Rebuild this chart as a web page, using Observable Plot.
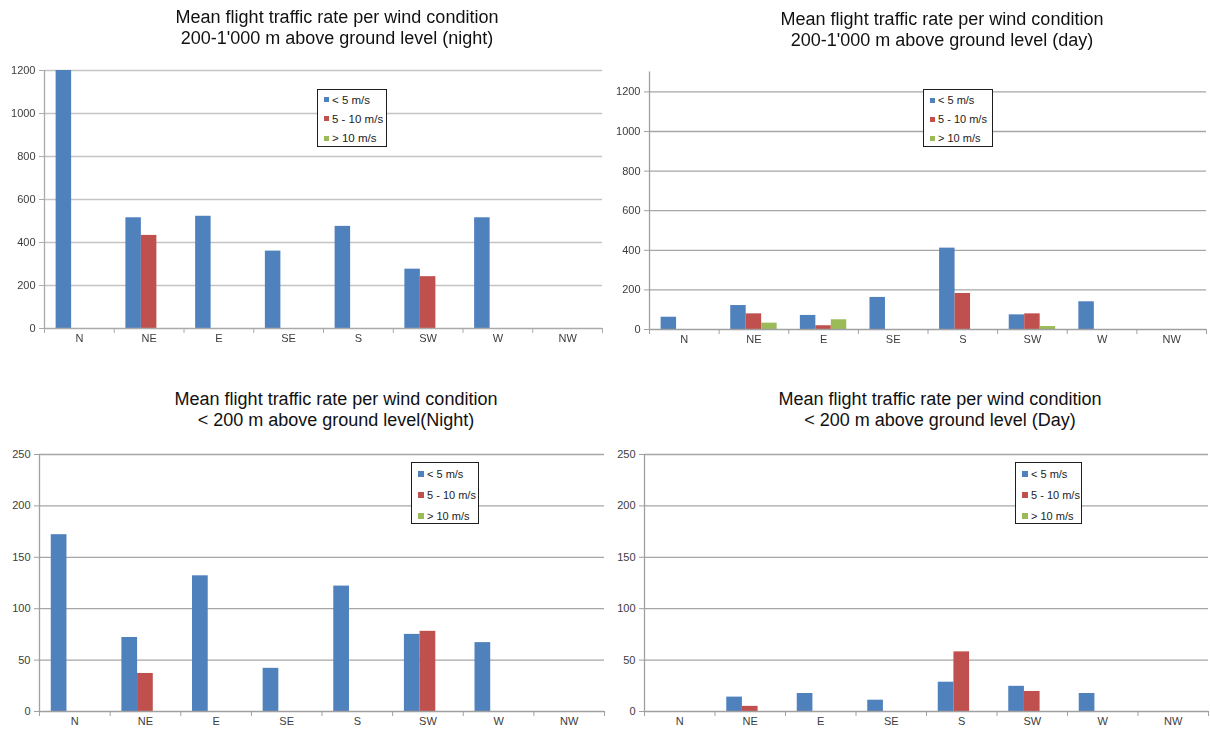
<!DOCTYPE html>
<html>
<head>
<meta charset="utf-8">
<script src="https://cdn.jsdelivr.net/npm/d3@7"></script>
<script src="https://cdn.jsdelivr.net/npm/@observablehq/plot@0.6"></script>
<style>
  body { margin: 0; background: #fff; font-family: "Liberation Sans", Arial, sans-serif; }
  #page { position: relative; width: 1210px; height: 734px; overflow: hidden; background: #fff; }
  .panel { position: absolute; width: 610px; height: 360px; }
  .panel.soft { filter: blur(0.45px); }
  .title { position: absolute; width: 420px; text-align: center; font-size: 18px; line-height: 21px; color: #111; white-space: nowrap; }
  .chart { position: absolute; left: 0; top: 55px; }
  .chart svg text { fill: #3c3c3c; }
  .legend { position: absolute; box-sizing: border-box; border: 1px solid #1e1e1e; background: #fff; font-size: 11px; color: #222; padding-left: 6px; }
  .legend .row { display: flex; align-items: center; white-space: nowrap; }
  .legend .sw { flex: none; margin-right: 3px; }
</style>
</head>
<body>
<div id="page"></div>
<script>
// Wind directions and wind-speed classes
const directions = ["N", "NE", "E", "SE", "S", "SW", "W", "NW"];
const speedClasses = ["< 5 m/s", "5 - 10 m/s", "> 10 m/s"];
const speedColors = ["#4f81bd", "#c0504d", "#9bbb59"];

// Mean flight traffic rate, 200-1'000 m above ground level, night
const highNightSlow = [1200, 515, 522, 360, 475, 276, 515, 0];
const highNightMid  = [0, 433, 0, 0, 0, 241, 0, 0];
const highNightFast = [0, 0, 0, 0, 0, 0, 0, 0];

// Mean flight traffic rate, 200-1'000 m above ground level, day
const highDaySlow = [62, 121, 71, 162, 411, 74, 140, 0];
const highDayMid  = [0, 79, 19, 0, 182, 79, 0, 0];
const highDayFast = [0, 32, 49, 0, 0, 15, 0, 0];

// Mean flight traffic rate, < 200 m above ground level, night
const lowNightSlow = [172, 72, 132, 42, 122, 75, 67, 0];
const lowNightMid  = [0, 37, 0, 0, 0, 78, 0, 0];
const lowNightFast = [0, 0, 0, 0, 0, 0, 0, 0];

// Mean flight traffic rate, < 200 m above ground level, day
const lowDaySlow = [0, 14, 17.5, 11, 28.5, 24.5, 17.5, 0];
const lowDayMid  = [0, 5, 0, 0, 58, 19.5, 0, 0];
const lowDayFast = [0, 0, 0, 0, 0, 0, 0, 0];

// Axis ticks
const ticksHigh = [0, 200, 400, 600, 800, 1000, 1200];
const ticksLow = [0, 50, 100, 150, 200, 250];

// Clustered column layout: gap between clusters = 150% of one column
const gapWidth = 1.5;
const colWidth = 1 / (speedClasses.length + gapWidth);

function tableOf(series) {
  const rows = [];
  series.forEach((values, k) => {
    values.forEach((v, i) => {
      if (v > 0) rows.push({dir: directions[i], index: i, k, speed: speedClasses[k], value: v});
    });
  });
  return rows;
}

const panels = [
  {
    left: 0, top: 0, soft: true,
    title: ["Mean flight traffic rate per wind condition", "200-1'000 m above ground level (night)"],
    titleLeft: 127, titleTop: 7,
    series: [highNightSlow, highNightMid, highNightFast],
    yDomain: [0, 1200], yTicks: ticksHigh,
    width: 605, height: 300, margin: {left: 44, right: 3, top: 15, bottom: 27},
    grid: "#c4c4c4", axis: "#aaaaaa",
    legend: {left: 317, top: 89, width: 70, height: 58, pad: 0, row: 19.3, sw: 5, font: 11.5}
  },
  {
    left: 600, top: 0,
    title: ["Mean flight traffic rate per wind condition", "200-1'000 m above ground level (day)"],
    titleLeft: 132, titleTop: 9,
    series: [highDaySlow, highDayMid, highDayFast],
    yDomain: [0, 1300], yTicks: ticksHigh,
    width: 610, height: 300, margin: {left: 49, right: 4, top: 16.6, bottom: 26},
    grid: "#a6a6a6", axis: "#a0a0a0",
    legend: {left: 323, top: 89, width: 70, height: 58, pad: 0.5, row: 19, sw: 5, font: 11}
  },
  {
    left: 0, top: 380,
    title: ["Mean flight traffic rate per wind condition", "< 200 m above ground level(Night)"],
    titleLeft: 126, titleTop: 9,
    series: [lowNightSlow, lowNightMid, lowNightFast],
    yDomain: [0, 250], yTicks: ticksLow,
    width: 610, height: 299, margin: {left: 39, right: 6, top: 19, bottom: 23},
    grid: "#a6a6a6", axis: "#a0a0a0",
    legend: {left: 411, top: 82, width: 68, height: 62, pad: 0, row: 21, sw: 6, font: 11}
  },
  {
    left: 600, top: 380,
    title: ["Mean flight traffic rate per wind condition", "< 200 m above ground level (Day)"],
    titleLeft: 130, titleTop: 9,
    series: [lowDaySlow, lowDayMid, lowDayFast],
    yDomain: [0, 250], yTicks: ticksLow,
    width: 610, height: 299, margin: {left: 44, right: 2, top: 19, bottom: 23},
    grid: "#a6a6a6", axis: "#a0a0a0",
    legend: {left: 415, top: 82, width: 67, height: 62, pad: 0, row: 21, sw: 6, font: 11}
  }
];

const page = document.getElementById("page");

for (const p of panels) {
  const panel = document.createElement("div");
  panel.className = "panel" + (p.soft ? " soft" : "");
  panel.style.left = p.left + "px";
  panel.style.top = p.top + "px";
  page.appendChild(panel);

  const title = document.createElement("div");
  title.className = "title";
  title.style.left = p.titleLeft + "px";
  title.style.top = p.titleTop + "px";
  title.innerHTML = p.title.map(t => t.replace(/&/g, "&amp;").replace(/</g, "&lt;")).join("<br>");
  panel.appendChild(title);

  const rows = tableOf(p.series);
  const chart = Plot.plot({
    width: p.width,
    height: p.height,
    marginLeft: p.margin.left,
    marginRight: p.margin.right,
    marginTop: p.margin.top,
    marginBottom: p.margin.bottom,
    style: {fontFamily: "Liberation Sans, Arial, sans-serif", fontSize: "11px", color: p.axis, background: "transparent", overflow: "visible"},
    x: {type: "linear", domain: [0, directions.length], ticks: d3.range(directions.length + 1), tickSize: 5, tickFormat: () => "", label: null},
    y: {domain: p.yDomain, ticks: p.yTicks, tickSize: 5, tickPadding: 4, tickFormat: d3.format("d"), label: null},
    color: {domain: speedClasses, range: speedColors},
    marks: [
      Plot.ruleY(p.yTicks.filter(t => t > 0), {stroke: p.grid, strokeWidth: 1.3}),
      Plot.rect(rows, {
        x1: d => d.index + (gapWidth / 2 + d.k) * colWidth,
        x2: d => d.index + (gapWidth / 2 + d.k + 1) * colWidth,
        y1: () => 0,
        y2: "value",
        fill: "speed"
      }),
      Plot.ruleY([0], {stroke: p.axis, strokeWidth: 1.3}),
      Plot.ruleX([0], {stroke: p.axis, strokeWidth: 1.3}),
      Plot.text(directions, {x: (d, i) => i + 0.5, frameAnchor: "bottom", dy: 13, text: d => d, fill: "#3c3c3c", fontSize: 11})
    ]
  });
  const holder = document.createElement("div");
  holder.className = "chart";
  holder.appendChild(chart);
  panel.appendChild(holder);

  const L = p.legend;
  const legend = document.createElement("div");
  legend.className = "legend";
  legend.style.left = L.left + "px";
  legend.style.top = L.top + "px";
  legend.style.width = L.width + "px";
  legend.style.height = L.height + "px";
  legend.style.paddingTop = L.pad + "px";
  legend.style.fontSize = L.font + "px";
  speedClasses.forEach((s, k) => {
    const row = document.createElement("div");
    row.className = "row";
    row.style.height = L.row + "px";
    const sw = document.createElement("span");
    sw.className = "sw";
    sw.style.width = L.sw + "px";
    sw.style.height = L.sw + "px";
    sw.style.background = speedColors[k];
    const label = document.createElement("span");
    label.textContent = s;
    row.appendChild(sw);
    row.appendChild(label);
    legend.appendChild(row);
  });
  panel.appendChild(legend);
}
</script>
</body>
</html>
